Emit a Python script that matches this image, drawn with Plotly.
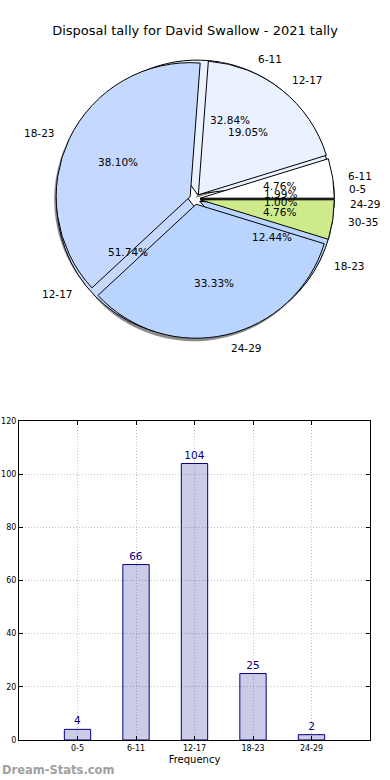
import math
import plotly.graph_objects as go

# ---------------- data ----------------
title_text = "Disposal tally for David Swallow - 2021 tally"
groups_all = ["0-5", "6-11", "12-17", "18-23", "24-29"]
counts_all = [4, 66, 104, 25, 2]
groups_2021 = ["6-11", "12-17", "18-23", "24-29", "30-35"]
counts_2021 = [1, 4, 8, 7, 1]
slice_colors = ["#ffffff", "#eaf1ff", "#c5d9ff", "#b8d4ff", "#cfea8a"]
y_ticks = [0, 20, 40, 60, 80, 100, 120]
x_title = "Frequency"
watermark = "Dream-Stats.com"

# ---------------- layout geometry ----------------
W, H = 390, 780
PULL = 0.04
cx_px, cy_px, r_px = 195, 199, 134
half = r_px * (1 + PULL)
dom_x = [(cx_px - half) / W, (cx_px + half) / W]
dom_y = [1 - (cy_px + half) / H, 1 - (cy_px - half) / H]
sh_dx, sh_dy = -2 / W, -3 / H
dom_x_sh = [dom_x[0] + sh_dx, dom_x[1] + sh_dx]
dom_y_sh = [dom_y[0] + sh_dy, dom_y[1] + sh_dy]
PIE_AREA_BOTTOM = 400  # px, bottom of the invisible label axes


def start_rotation(values):
    # plotly (counterclockwise) ends the first slice at `rotation`;
    # shift so the first slice starts at 3 o'clock like matplotlib
    return 90 - 360.0 * values[0] / sum(values)


fig = go.Figure()

pie_common = dict(sort=False, direction="counterclockwise",
                  textinfo="none", hoverinfo="label+percent", showlegend=False)

# shadow
fig.add_trace(go.Pie(labels=groups_2021, values=counts_2021,
                     rotation=start_rotation(counts_2021),
                     pull=[PULL] * len(counts_2021),
                     marker=dict(colors=["rgba(0,0,0,0.45)"] * len(counts_2021),
                                 line=dict(width=0)),
                     domain=dict(x=dom_x_sh, y=dom_y_sh), **pie_common))
# all-time pie (underneath)
fig.add_trace(go.Pie(labels=groups_all, values=counts_all,
                     rotation=start_rotation(counts_all),
                     pull=[PULL] * len(counts_all),
                     marker=dict(colors=slice_colors, line=dict(color="black", width=1)),
                     domain=dict(x=dom_x, y=dom_y), **pie_common))
# 2021 pie (on top)
fig.add_trace(go.Pie(labels=groups_2021, values=counts_2021,
                     rotation=start_rotation(counts_2021),
                     pull=[PULL] * len(counts_2021),
                     marker=dict(colors=slice_colors, line=dict(color="black", width=1)),
                     domain=dict(x=dom_x, y=dom_y), **pie_common))

annotations = []
txt_font = dict(family="DejaVu Sans", size=10.5, color="black")


def add_pie_labels(labels, values):
    total = sum(values)
    cum = 0
    for lab, v in zip(labels, values):
        mid = 2 * math.pi * (cum + v / 2) / total
        cum += v
        c, s = math.cos(mid), math.sin(mid)
        annotations.append(dict(text=lab, x=(PULL + 1.1) * c, y=(PULL + 1.1) * s,
                                xref="x2", yref="y2", showarrow=False,
                                xanchor="left" if c > 0 else "right", yanchor="middle",
                                font=txt_font))
        annotations.append(dict(text="%.2f%%" % (100 * v / total),
                                x=(PULL + 0.6) * c, y=(PULL + 0.6) * s,
                                xref="x2", yref="y2", showarrow=False,
                                xanchor="center", yanchor="middle", font=txt_font))


add_pie_labels(groups_all, counts_all)
add_pie_labels(groups_2021, counts_2021)

annotations.append(dict(text="<b>%s</b>" % watermark, x=0, y=0, xref="paper", yref="paper",
                        xanchor="left", yanchor="bottom", yshift=1, showarrow=False,
                        font=dict(family="DejaVu Sans", size=11.5, color="#a0a0a0")))

# ---------------- bar chart ----------------
fig.add_trace(go.Bar(x=groups_all, y=counts_all, width=0.45,
                     marker=dict(color="rgba(0,0,128,0.2)",
                                 line=dict(color="#000080", width=1)),
                     texttemplate="%{y}", textposition="outside", constraintext="none",
                     textfont=dict(family="DejaVu Sans", size=10.5, color="#000080"),
                     cliponaxis=False, showlegend=False, xaxis="x", yaxis="y"))

axis_common = dict(showgrid=True, gridcolor="#c4c4c4", griddash="1px,2px", gridwidth=1,
                   showline=True, linecolor="black", linewidth=1, mirror="allticks",
                   ticks="inside", ticklen=4, tickcolor="black", zeroline=False,
                   automargin=False,
                   tickfont=dict(family="DejaVu Sans", size=8, color="black"))

fig.update_layout(
    width=W, height=H,
    margin=dict(l=0, r=0, t=0, b=0, autoexpand=False),
    paper_bgcolor="white", plot_bgcolor="white",
    hovermode=False,
    title=dict(text=title_text, x=0.5, xanchor="center", y=1 - 30 / H, yanchor="middle",
               font=dict(family="DejaVu Sans", size=13, color="black")),
    xaxis=dict(domain=[19 / W, 370 / W], range=[-1, 5], anchor="y",
               type="category",
               title=dict(text=x_title, standoff=4,
                          font=dict(family="DejaVu Sans", size=10, color="black")),
               **axis_common),
    yaxis=dict(domain=[1 - 740 / H, 1 - 421 / H], range=[0, 120], anchor="x",
               tickvals=y_ticks, **axis_common),
    xaxis2=dict(domain=[0, 1], range=[-cx_px / r_px, (W - cx_px) / r_px],
                visible=False, anchor="y2", fixedrange=True),
    yaxis2=dict(domain=[1 - PIE_AREA_BOTTOM / H, 1],
                range=[-(PIE_AREA_BOTTOM - cy_px) / r_px, cy_px / r_px],
                visible=False, anchor="x2", fixedrange=True),
    annotations=annotations,
    bargap=0,
)

fig.write_html("out.html", config={"staticPlot": True, "displayModeBar": False},
               post_script="document.body.style.margin='0px';")
